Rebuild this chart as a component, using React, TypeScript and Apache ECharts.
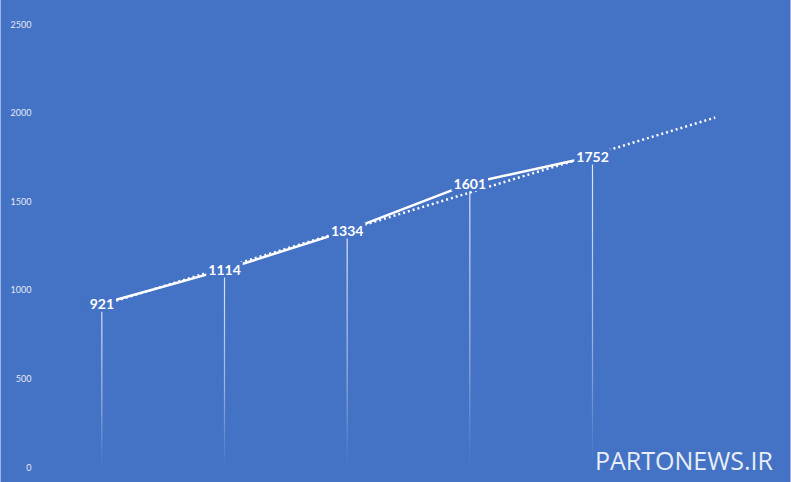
import React, { useEffect, useRef } from "react";
import * as echarts from "echarts";

const categories = ["1", "2", "3", "4", "5", "6"];
const values = [921, 1114, 1334, 1601, 1752, null];
const trendValues = [914, null, null, null, null, 1972];
const yTicks = { min: 0, max: 2500, interval: 500 };
const watermark = "PARTONEWS.IR";

const BG = "#4472C4";

export default function App() {
  const ref = useRef<HTMLDivElement>(null);
  useEffect(() => {
    const chart = echarts.init(ref.current!, null, { renderer: "svg" });
    chart.setOption({
      animation: false,
      backgroundColor: BG,
      grid: { left: 39.5, right: 13.5, top: 24, bottom: 15 },
      xAxis: {
        type: "category",
        data: categories,
        boundaryGap: true,
        axisLine: { show: false },
        axisTick: { show: false },
        axisLabel: { show: false },
        splitLine: { show: false },
      },
      yAxis: {
        type: "value",
        min: yTicks.min,
        max: yTicks.max,
        interval: yTicks.interval,
        axisLine: { show: false },
        axisTick: { show: false },
        splitLine: { show: false },
        axisLabel: {
          color: "#e4e9f5",
          fontSize: 9,
          fontFamily: "Lato",
          margin: 9,
          formatter: (v: number) => String(v),
        },
      },
      series: [
        {
          type: "bar",
          data: values,
          barWidth: 1.2,
          silent: true,
          z: 1,
          itemStyle: {
            color: new echarts.graphic.LinearGradient(0, 0, 0, 1, [
              { offset: 0, color: "rgba(255,255,255,0.85)" },
              { offset: 0.6, color: "rgba(255,255,255,0.45)" },
              { offset: 1, color: "rgba(255,255,255,0.0)" },
            ]),
          },
        },
        {
          type: "line",
          data: trendValues,
          connectNulls: true,
          symbol: "none",
          z: 2,
          lineStyle: { color: "#ffffff", width: 2.5, type: [2, 3] },
        },
        {
          type: "line",
          data: values,
          symbol: "circle",
          symbolSize: 0.1,
          showSymbol: true,
          z: 3,
          itemStyle: { color: "#ffffff" },
          lineStyle: { color: "#ffffff", width: 2.5 },
          label: {
            show: true,
            position: "inside",
            color: "#ffffff",
            fontFamily: "Lato",
            fontWeight: "bold",
            fontSize: 14,
            backgroundColor: BG,
            padding: [1, 2],
          },
        },
      ],
      graphic: [
        {
          type: "text",
          left: 594,
          top: 447,
          style: {
            text: watermark,
            fill: "#e8edf7",
            fontSize: 25,
            fontFamily: "Open Sans",
          },
        },
      ],
    });
    return () => chart.dispose();
  }, []);
  return (
    <div
      ref={ref}
      style={{
        position: "fixed",
        left: 0,
        top: 0,
        width: 791,
        height: 482,
        boxSizing: "border-box",
        borderLeft: "1px solid #9fb5e0",
        borderRight: "1px solid #9fb5e0",
      }}
    />
  );
}
